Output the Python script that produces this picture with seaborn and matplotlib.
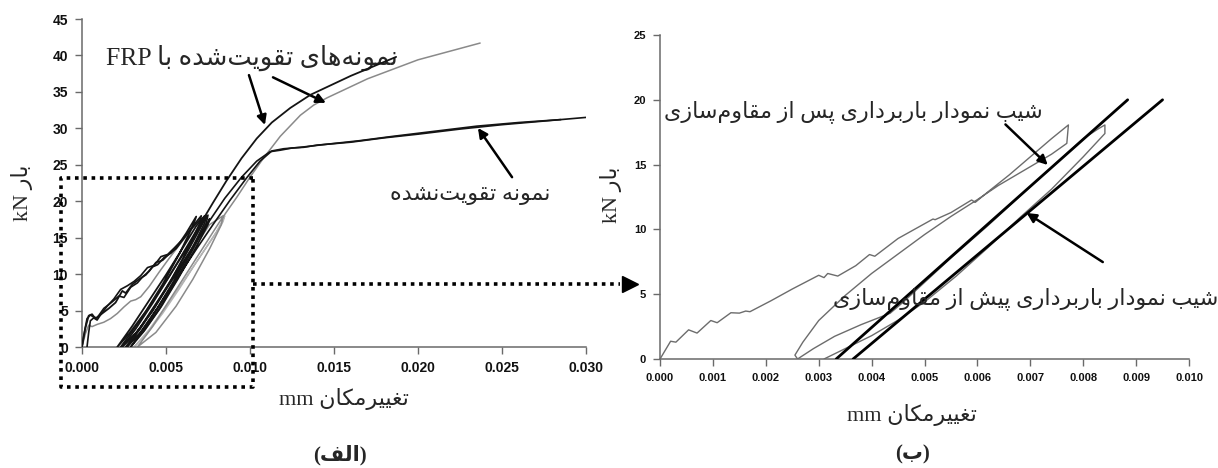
import numpy as np
import pandas as pd
import matplotlib
matplotlib.use("Agg")
import matplotlib.pyplot as plt
import seaborn as sns

# ------------------------------------------------------------------
# Panel (a): load (kN) vs displacement (mm) for four specimens
# ------------------------------------------------------------------
# FRP-strengthened specimen, black trace
s1_x = [0.0000, 0.0002, 0.0004, 0.0006, 0.0008, 0.0012, 0.0016, 0.0020, 0.0024, 0.0026,
        0.0030, 0.0034, 0.0038, 0.0042, 0.0045, 0.0049, 0.0053, 0.0057, 0.0062, 0.0068,
        0.0066, 0.0058, 0.0048, 0.0038, 0.0028, 0.0021,
        0.0030, 0.0040, 0.0050, 0.0060, 0.0068, 0.0073,
        0.0072, 0.0064, 0.0054, 0.0044, 0.0034, 0.0024,
        0.0032, 0.0042, 0.0052, 0.0061, 0.0070, 0.0078, 0.0086, 0.0095, 0.0104, 0.0113,
        0.0124, 0.0136, 0.0160, 0.0187]
s1_y = [0.0, 2.6, 4.3, 4.5, 3.9, 4.6, 5.3, 6.1, 7.7, 7.4,
        8.6, 9.3, 9.9, 11.0, 11.3, 12.3, 12.9, 13.9, 15.6, 17.9,
        16.6, 12.8, 8.6, 4.9, 1.8, 0.0,
        2.9, 6.4, 9.9, 13.6, 16.6, 18.0,
        17.0, 13.6, 9.6, 5.8, 2.3, 0.0,
        2.5, 6.0, 9.7, 13.2, 16.7, 19.8, 22.8, 25.9, 28.6, 30.8,
        32.8, 34.6, 37.2, 39.8]

# FRP-strengthened specimen, grey trace
s2_x = [0.0000, 0.0002, 0.0004, 0.0006, 0.0009, 0.0013, 0.0017, 0.0021, 0.0025, 0.0029,
        0.0032, 0.0035, 0.0040, 0.0046, 0.0052, 0.0060, 0.0068, 0.0074,
        0.0073, 0.0066, 0.0057, 0.0048, 0.0038, 0.0029,
        0.0036, 0.0046, 0.0056, 0.0066, 0.0076, 0.0084,
        0.0083, 0.0076, 0.0066, 0.0056, 0.0044, 0.0033,
        0.0042, 0.0052, 0.0062, 0.0072, 0.0082, 0.0092, 0.0100, 0.0108, 0.0118, 0.0130,
        0.0138, 0.0146, 0.0170, 0.0200, 0.0237]
s2_y = [0.0, 1.8, 3.0, 2.8, 3.1, 3.4, 3.9, 4.6, 5.5, 6.3,
        6.5, 6.9, 8.3, 10.3, 12.2, 14.6, 17.0, 18.0,
        16.8, 13.3, 9.4, 5.8, 2.5, 0.0,
        2.2, 5.5, 9.3, 13.3, 16.8, 18.0,
        16.8, 13.5, 9.3, 5.6, 2.0, 0.0,
        2.8, 6.4, 10.0, 13.6, 17.2, 20.5, 23.3, 25.9, 28.9, 31.8,
        33.2, 34.2, 36.8, 39.4, 41.7]

# Unstrengthened specimens, black traces
s3_x = [0.0000, 0.0001, 0.0003, 0.0005, 0.0007, 0.0009, 0.0013, 0.0018, 0.0022, 0.0025,
        0.0029, 0.0033, 0.0036, 0.0040, 0.0044, 0.0048, 0.0052, 0.0056, 0.0061, 0.0066, 0.0071,
        0.0070, 0.0062, 0.0052, 0.0042, 0.0032, 0.0023,
        0.0031, 0.0041, 0.0051, 0.0061, 0.0070, 0.0075,
        0.0074, 0.0066, 0.0056, 0.0046, 0.0036, 0.0026,
        0.0035, 0.0045, 0.0055, 0.0065, 0.0075, 0.0085, 0.0095, 0.0104, 0.0112, 0.0118,
        0.0125, 0.0132, 0.0140, 0.0160, 0.0180, 0.0200, 0.0225, 0.0250, 0.0275, 0.0300]
s3_y = [0.0, 1.5, 3.9, 4.4, 4.1, 4.0, 5.3, 6.2, 7.0, 6.8,
        8.2, 8.8, 9.6, 10.4, 11.6, 11.9, 12.8, 13.5, 15.0, 16.6, 18.0,
        16.9, 13.0, 8.7, 4.9, 1.9, 0.0,
        2.5, 5.9, 9.4, 13.0, 16.4, 18.1,
        17.0, 13.4, 9.2, 5.2, 2.0, 0.0,
        2.8, 6.3, 9.8, 13.4, 17.0, 20.4, 23.3, 25.5, 26.8, 27.0,
        27.3, 27.4, 27.7, 28.1, 28.7, 29.2, 29.9, 30.5, 31.0, 31.5]

s4_x = [0.0003, 0.0004, 0.0005, 0.0007, 0.0009, 0.0011, 0.0015, 0.0019, 0.0023, 0.0027,
        0.0031, 0.0035, 0.0039, 0.0043, 0.0047, 0.0051, 0.0055, 0.0060, 0.0065, 0.0070, 0.0074,
        0.0073, 0.0065, 0.0055, 0.0045, 0.0035, 0.0027,
        0.0036, 0.0046, 0.0056, 0.0066, 0.0073, 0.0076,
        0.0075, 0.0067, 0.0057, 0.0047, 0.0037, 0.0029,
        0.0038, 0.0048, 0.0058, 0.0068, 0.0078, 0.0088, 0.0098, 0.0106, 0.0113, 0.0120,
        0.0130, 0.0145, 0.0165, 0.0185, 0.0210, 0.0235, 0.0260, 0.0285]
s4_y = [0.0, 2.0, 3.6, 4.0, 3.7, 4.4, 5.6, 6.6, 7.9, 8.4,
        9.0, 9.8, 10.9, 11.2, 12.4, 12.7, 13.6, 14.8, 16.2, 17.4, 18.0,
        17.0, 13.3, 9.2, 5.4, 2.1, 0.0,
        3.0, 6.5, 10.0, 13.6, 16.3, 17.6,
        16.8, 13.3, 9.3, 5.5, 2.2, 0.0,
        2.9, 6.4, 9.9, 13.4, 16.8, 20.1, 23.2, 25.5, 26.9, 27.2,
        27.4, 27.8, 28.3, 28.9, 29.6, 30.3, 30.8, 31.2]

# Extra unloading/reloading loop of the grey specimen (light grey)
s5_x = [0.0031, 0.0040, 0.0050, 0.0060, 0.0070, 0.0080, 0.0085,
        0.0084, 0.0078, 0.0068, 0.0058, 0.0048, 0.0038, 0.0031]
s5_y = [0.0, 2.4, 5.6, 8.9, 12.3, 15.8, 18.0,
        17.2, 15.0, 11.6, 8.0, 4.6, 1.6, 0.0]

left_xticks = [0.000, 0.005, 0.010, 0.015, 0.020, 0.025, 0.030]
left_xtick_labels = ["0.000", "0.005", "0.010", "0.015", "0.020", "0.025", "0.030"]
left_yticks = [0, 5, 10, 15, 20, 25, 30, 35, 40, 45]

# ------------------------------------------------------------------
# Panel (b): close-up of one specimen with the unloading slopes
# ------------------------------------------------------------------
load_x = [0.0000, 0.0002, 0.0003, 0.00054, 0.0007, 0.00096, 0.00108, 0.00134, 0.0015, 0.00162,
          0.0017, 0.0021, 0.0025, 0.0030, 0.0031, 0.00317, 0.00336, 0.0037, 0.00396, 0.00406,
          0.0045, 0.00516, 0.0052, 0.0055, 0.00589, 0.00596, 0.0062, 0.0066, 0.0070, 0.0074, 0.00772]
load_y = [0.0, 1.37, 1.3, 2.25, 2.0, 2.97, 2.8, 3.57, 3.54, 3.7,
          3.65, 4.5, 5.4, 6.46, 6.28, 6.6, 6.4, 7.2, 8.06, 7.93,
          9.3, 10.8, 10.75, 11.3, 12.27, 12.09, 12.9, 14.2, 15.6, 17.0, 18.06]
unload1_x = [0.00769, 0.0074, 0.0069, 0.0064, 0.0060, 0.0055, 0.0050, 0.0045, 0.0040,
             0.0035, 0.0030, 0.0027, 0.00255, 0.0026]
unload1_y = [16.64, 15.8, 14.6, 13.4, 12.3, 11.0, 9.6, 8.1, 6.6,
             4.9, 2.97, 1.3, 0.3, 0.0]
reload_x = [0.0029, 0.0033, 0.0038, 0.00435, 0.0046, 0.0055, 0.0062, 0.0070, 0.0077,
            0.0080, 0.0083, 0.00841]
reload_y = [0.8, 1.75, 2.65, 3.53, 4.4, 7.8, 10.3, 13.3, 15.9,
            17.0, 17.8, 18.06]
unload2_x = [0.00841, 0.0080, 0.0074, 0.0068, 0.0062, 0.0056, 0.0050, 0.0045, 0.0040,
             0.0035, 0.0031]
unload2_y = [17.4, 15.6, 13.1, 10.9, 8.6, 6.4, 4.4, 3.0, 1.8,
             0.8, 0.0]

# Unloading slopes: after strengthening (steeper) and before strengthening
slope_after_x = [0.00333, 0.00884]
slope_after_y = [0.0, 20.0]
slope_before_x = [0.00365, 0.00950]
slope_before_y = [0.0, 20.0]

right_xticks = [0.000, 0.001, 0.002, 0.003, 0.004, 0.005, 0.006, 0.007, 0.008, 0.009, 0.010]
right_xtick_labels = ["0.000", "0.001", "0.002", "0.003", "0.004", "0.005",
                      "0.006", "0.007", "0.008", "0.009", "0.010"]
right_yticks = [0, 5, 10, 15, 20, 25]

# Texts
txt_ylabel = "بار kN"
txt_xlabel = "تغییرمکان mm"
txt_frp = "نمونه‌های تقویت‌شده با FRP"
txt_plain = "نمونه تقویت‌نشده"
txt_after = "شیب نمودار باربرداری پس از مقاوم‌سازی"
txt_before = "شیب نمودار باربرداری پیش از مقاوم‌سازی"
txt_panel_a = "(الف)"
txt_panel_b = "(ب)"

# ------------------------------------------------------------------
# Minimal Persian shaping: contextual forms + right-to-left ordering
# ------------------------------------------------------------------
ZWNJ = "\u200c"
# isolated, final, initial, medial
ARABIC_FORMS = {
    "ا": (0xFE8D, 0xFE8E, None, None),
    "ب": (0xFE8F, 0xFE90, 0xFE91, 0xFE92),
    "پ": (0xFB56, 0xFB57, 0xFB58, 0xFB59),
    "ت": (0xFE95, 0xFE96, 0xFE97, 0xFE98),
    "د": (0xFEA9, 0xFEAA, None, None),
    "ر": (0xFEAD, 0xFEAE, None, None),
    "ز": (0xFEAF, 0xFEB0, None, None),
    "س": (0xFEB1, 0xFEB2, 0xFEB3, 0xFEB4),
    "ش": (0xFEB5, 0xFEB6, 0xFEB7, 0xFEB8),
    "غ": (0xFECD, 0xFECE, 0xFECF, 0xFED0),
    "ف": (0xFED1, 0xFED2, 0xFED3, 0xFED4),
    "ق": (0xFED5, 0xFED6, 0xFED7, 0xFED8),
    "ک": (0xFB8E, 0xFB8F, 0xFEDB, 0xFEDC),
    "ل": (0xFEDD, 0xFEDE, 0xFEDF, 0xFEE0),
    "م": (0xFEE1, 0xFEE2, 0xFEE3, 0xFEE4),
    "ن": (0xFEE5, 0xFEE6, 0xFEE7, 0xFEE8),
    "ه": (0xFEE9, 0xFEEA, 0xFEEB, 0xFEEC),
    "و": (0xFEED, 0xFEEE, None, None),
    "ی": (0xFEEF, 0xFEF0, 0xFEF3, 0xFEF4),
}
MIRROR = {"(": ")", ")": "("}


def shape_word(word):
    res = []
    for i, ch in enumerate(word):
        forms = ARABIC_FORMS.get(ch)
        if forms is None:
            if ch != ZWNJ:
                res.append(ch)
            continue
        prev = word[i - 1] if i > 0 else ""
        nxt = word[i + 1] if i + 1 < len(word) else ""
        joins_prev = prev in ARABIC_FORMS and ARABIC_FORMS[prev][2] is not None
        joins_next = forms[2] is not None and nxt in ARABIC_FORMS
        if joins_prev and joins_next:
            idx = 3
        elif joins_prev:
            idx = 1
        elif joins_next:
            idx = 2
        else:
            idx = 0
        res.append(chr(forms[idx]))
    return "".join(res)


def rtl(text):
    out = []
    for word in reversed(text.split(" ")):
        if any(ch in ARABIC_FORMS for ch in word):
            shaped = shape_word(word)
            out.append("".join(MIRROR.get(ch, ch) for ch in reversed(shaped)))
        else:
            out.append(word)
    return " ".join(out)


# ------------------------------------------------------------------
# Figure
# ------------------------------------------------------------------
sns.set_style("ticks")
plt.rcParams["font.family"] = ["Liberation Sans", "DejaVu Sans"]
FA = ["Liberation Serif", "DejaVu Sans"]

fig = plt.figure(figsize=(12.18, 4.68), dpi=100)
fig.patch.set_facecolor("white")
axL = fig.add_axes([0.0673, 0.2585, 0.4138, 0.7009])
axR = fig.add_axes([0.5419, 0.2329, 0.4343, 0.6923])

BLACK = "#141414"
GREY = "#8a8a8a"
LIGHT = "#b4b4b4"
AXIS = "#6a6a6a"


def trace(ax, xs, ys, color, lw, z=2):
    df = pd.DataFrame({"x": xs, "y": ys})
    sns.lineplot(data=df, x="x", y="y", sort=False, estimator=None, ax=ax,
                 color=color, lw=lw, zorder=z, legend=False)


# panel (a)
trace(axL, s5_x, s5_y, LIGHT, 1.0, 1)
trace(axL, s2_x, s2_y, GREY, 1.1, 2)
trace(axL, s4_x, s4_y, BLACK, 1.2, 3)
trace(axL, s3_x, s3_y, BLACK, 1.2, 3)
trace(axL, s1_x, s1_y, BLACK, 1.3, 4)

axL.set_xlim(0, 0.030)
axL.set_ylim(0, 45)
axL.set_xticks(left_xticks, left_xtick_labels)
axL.set_yticks(left_yticks, [str(v) for v in left_yticks])

# panel (b)
curve_x = load_x + unload1_x + reload_x + unload2_x
curve_y = load_y + unload1_y + reload_y + unload2_y
trace(axR, curve_x, curve_y, "#6c6c6c", 1.0, 2)
trace(axR, slope_after_x, slope_after_y, "black", 2.0, 3)
trace(axR, slope_before_x, slope_before_y, "black", 2.0, 3)

axR.set_xlim(0, 0.010)
axR.set_ylim(0, 25)
axR.set_xticks(right_xticks, right_xtick_labels)
axR.set_yticks(right_yticks, [str(v) for v in right_yticks])

for ax, fs in ((axL, 10), (axR, 8)):
    sns.despine(ax=ax)
    for side in ("left", "bottom"):
        ax.spines[side].set_color(AXIS)
        ax.spines[side].set_linewidth(1.1)
    ax.tick_params(direction="out", length=5, width=1, color=AXIS,
                   labelsize=fs, labelcolor="#111111", pad=5)
    for lab in ax.get_xticklabels() + ax.get_yticklabels():
        lab.set_fontweight("bold")
    ax.set_facecolor("none")

# axis titles
axL.set_xlabel(rtl(txt_xlabel), family=FA, fontsize=16)
axL.xaxis.set_label_coords(0.52, -0.125)
axL.set_ylabel(rtl(txt_ylabel), family=FA, fontsize=16)
axL.yaxis.set_label_coords(-0.097, 0.47)
axR.set_xlabel(rtl(txt_xlabel), family=FA, fontsize=16)
axR.xaxis.set_label_coords(0.476, -0.14)
axR.set_ylabel(rtl(txt_ylabel), family=FA, fontsize=16)
axR.yaxis.set_label_coords(-0.072, 0.506)

axL.text(0.512, -0.33, rtl(txt_panel_a), transform=axL.transAxes, family=FA,
         fontsize=15, fontweight="bold", ha="center", va="center")
axR.text(0.478, -0.295, rtl(txt_panel_b), transform=axR.transAxes, family=FA,
         fontsize=15, fontweight="bold", ha="center", va="center")

# annotations, panel (a)
arrow = dict(arrowstyle="-|>", color="black", lw=1.8, mutation_scale=14,
             shrinkA=0, shrinkB=0)
axL.text(0.0101, 39.6, rtl(txt_frp), family=FA, fontsize=18.5, ha="center", va="center")
axL.annotate("", xy=(0.01089, 30.46), xytext=(0.00994, 37.3), arrowprops=arrow)
axL.annotate("", xy=(0.01452, 33.5), xytext=(0.01137, 37.0), arrowprops=arrow)
axL.text(0.0231, 20.85, rtl(txt_plain), family=FA, fontsize=16, ha="center", va="center")
axL.annotate("", xy=(0.02357, 30.05), xytext=(0.0256, 23.3), arrowprops=arrow)

# annotations, panel (b)
axR.text(0.00365, 19.06, rtl(txt_after), family=FA, fontsize=16, ha="center", va="center")
axR.annotate("", xy=(0.00733, 14.97), xytext=(0.00653, 18.1), arrowprops=arrow)
axR.text(0.00692, 4.7, rtl(txt_before), family=FA, fontsize=16, ha="center",
         va="center", clip_on=False)
axR.annotate("", xy=(0.00693, 11.27), xytext=(0.00837, 7.48), arrowprops=arrow)

# dotted zoom frame around the early cycles and the link to panel (b)
dot = dict(color="black", lw=2.6, linestyle=(0, (1.0, 1.3)), clip_on=False, zorder=6)
frame_x = [0.0102, -0.00122, -0.00122, 0.0102, 0.0102]
frame_y = [23.2, 23.2, -5.5, -5.5, 23.2]
axL.plot(frame_x, frame_y, **dot)
axL.plot([0.0102, 0.0320], [8.7, 8.7], **dot)
axL.plot([0.0326], [8.7], marker=">", markersize=11, color="black",
         clip_on=False, zorder=6)

fig.savefig("out.png", dpi=100, facecolor="white")
